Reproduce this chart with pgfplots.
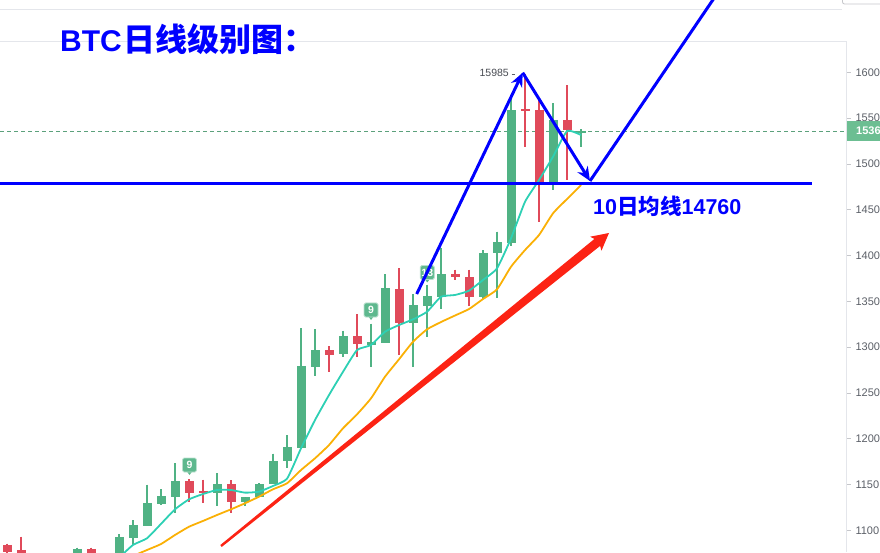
\documentclass[border=0pt]{standalone}
\usepackage{fontspec}
\setmainfont{Liberation Sans}
\newfontfamily\cjk{Noto Sans CJK SC}
\usepackage{pgfplots}
\usepackage{pgfplotstable}
\pgfplotsset{compat=1.18}
\usetikzlibrary{arrows.meta}
\definecolor{cgreen}{RGB}{80,178,132}
\definecolor{cred}{RGB}{224,74,90}
\definecolor{cteal}{RGB}{45,208,180}
\definecolor{corange}{RGB}{250,176,5}
\definecolor{cblue}{RGB}{0,0,255}
\definecolor{carrow}{RGB}{252,35,20}
\definecolor{cgrid}{RGB}{228,230,235}
\definecolor{ctick}{RGB}{90,94,102}
\definecolor{clast}{RGB}{108,190,146}

\pgfplotstableread{
x o h l c
5 1072 1081 1068 1079.6
8 1074 1095.6 1070 1092.7
9 1092 1110.9 1083.6 1105.8
10 1105 1149.5 1105 1129.8
11 1129 1145 1128 1137.4
12 1136.7 1173.1 1119.2 1153.8
15 1141 1162.2 1126.5 1150.5
17 1131.2 1136 1126.5 1136
18 1136 1151.6 1136 1150.5
19 1150 1183.6 1150 1175.3
20 1175.3 1204 1168.4 1191
21 1190.2 1320.5 1190.2 1279.4
22 1278.6 1319.4 1268.5 1296.8
24 1292 1317.6 1288.9 1312
26 1302.3 1325.3 1278.6 1305.3
27 1304.8 1379.5 1304.8 1364.5
29 1326.6 1357.6 1278.6 1345.9
30 1345.2 1367.8 1310.7 1355.8
31 1355 1407.9 1341.6 1379.8
34 1355 1406 1353 1402.4
35 1402.4 1426 1353.3 1414.4
36 1414 1572 1410 1558.8
39 1480.6 1566 1471.5 1548
41 1533.5 1538 1518.8 1536
}\greentab

\pgfplotstableread{
x o h l c
0 1084 1085.5 1070 1076
1 1078.5 1092.7 1068 1072
6 1079.6 1081 1070 1073
13 1153.8 1156 1131.2 1141
14 1143 1155 1130 1141
16 1150.5 1154.6 1119.2 1131.2
23 1296.8 1301 1273.2 1291.7
25 1312 1335.8 1289.6 1303
28 1363.4 1386 1291 1326.6
32 1379.5 1384.2 1373.3 1376
33 1376.2 1384.2 1344.9 1355
37 1559.6 1598.5 1518.8 1557.7
38 1558.8 1571.6 1436.9 1480.6
40 1548 1586 1482.4 1537
}\redtab

\newcommand{\marker}[3]{%
  \fill[cgreen!92!white] (#1-3,#2-6) -- (#1+3,#2-6) -- (#1,#2-10) -- cycle;
  \filldraw[fill=cgreen!92!white, draw=cgreen!40!white, line width=0.8pt, rounded corners=1.5pt] (#1-7,#2-7) rectangle (#1+7,#2+7);
  \node[text=white, inner sep=0, font=\fontsize{10.5}{11}\selectfont\bfseries] at (#1,#2) {#3};
}

\pgfplotsset{candle/.style={forget plot, only marks, mark=*, mark size=0pt,
  mark options={draw=none, fill=none},
  error bars/.cd, y dir=minus, y explicit, error mark=none}}

\begin{document}
\begin{tikzpicture}[x=1pt,y=1pt]
% top UI lines
\draw[cgrid, line width=0.8pt] (0,542.5) -- (842,542.5);
\draw[cgrid, line width=0.8pt] (0,510.5) -- (846.5,510.5);
\draw[cgrid!70!gray, line width=0.8pt, rounded corners=2pt] (842.5,548) rectangle (895,562);

\begin{axis}[
  at={(0,0)}, anchor=south west, scale only axis,
  width=846.5pt, height=510pt,
  xmin=-0.5, xmax=59.96, ymin=1076.3, ymax=1633.1,
  hide x axis, axis y line*=right,
  axis line style={draw=cgrid, line width=0.8pt},
  ytick={1100,1150,...,1600},
  tick align=outside, major tick length=4pt,
  ytick style={draw=cgrid!70!gray, line width=0.6pt},
  yticklabel style={font=\fontsize{11}{12}\selectfont, text=ctick, xshift=1.5pt},
  /pgf/number format/assume math mode=true,
  /pgf/number format/1000 sep={},
  clip=true,
]
% last price dashed line
\addplot[forget plot, clast!85!black, line width=0.6pt, dash pattern=on 4pt off 3pt] coordinates {(-0.5,1536) (59.96,1536)};

% green wicks and bodies
\addplot[candle, error bar style={line width=1.2pt, color=cgreen}]
  table[x=x, y=h, y error minus expr=\thisrow{h}-\thisrow{l}] {\greentab};
\addplot[candle, error bar style={line width=9pt, color=cgreen}]
  table[x=x, y=c, y error minus expr=\thisrow{c}-\thisrow{o}] {\greentab};
% red wicks and bodies
\addplot[candle, error bar style={line width=1.2pt, color=cred}]
  table[x=x, y=h, y error minus expr=\thisrow{h}-\thisrow{l}] {\redtab};
\addplot[candle, error bar style={line width=9pt, color=cred}]
  table[x=x, y=o, y error minus expr=\thisrow{o}-\thisrow{c}] {\redtab};

% MA10 (orange)
\addplot[forget plot, corange, line width=1.8pt, smooth, tension=0.3] coordinates {
(9,1072) (10,1078.5) (11,1085) (12,1094.9) (13,1103.9) (14,1110.2) (15,1116.7)
(16,1122.9) (17,1129.5) (18,1136.7) (19,1144.8) (20,1151.3) (21,1165.8) (22,1178.6)
(23,1193.1) (24,1211.4) (25,1226.6) (26,1244.1) (27,1267.7) (28,1286.7) (29,1305.9)
(30,1319.4) (31,1327.4) (32,1334.5) (33,1341.6) (34,1352.5) (35,1363.1) (36,1387.8)
(37,1406) (38,1422.4) (39,1446.1) (40,1461.7) (41,1477)};
% MA5 (teal)
\addplot[forget plot, cteal, line width=1.8pt, smooth, tension=0.3] coordinates {
(8,1070) (9,1084) (10,1091.3) (11,1107) (12,1122.9) (13,1133.8) (14,1139.6) (15,1144)
(16,1144) (17,1141.1) (18,1142.2) (19,1148.4) (20,1156.3) (21,1189.5) (22,1220.4)
(23,1247.7) (24,1273.1) (25,1296.8) (26,1302.3) (27,1316.8) (28,1324.1) (29,1330.3)
(30,1338.6) (31,1355) (32,1356.9) (33,1361.6) (34,1373.3) (35,1386) (36,1418.8)
(37,1458.7) (38,1482.4) (39,1507.9) (40,1535.9) (41,1531.5)};
\end{axis}

% last price tag
\fill[clast] (846.5,411) rectangle (895,431);
\node[anchor=west, inner sep=0, text=white, font=\fontsize{11}{12}\selectfont\bfseries] at (856,421) {1536};

% high label
\node[anchor=east, inner sep=0, text=ctick!80!black, font=\fontsize{10.5}{12}\selectfont] at (509,479) {15985};
\draw[ctick, line width=0.6pt] (511.5,478) -- (515,478);

% signal markers
\marker{189.5}{87}{9}
\marker{371}{242}{9}
\marker{427.3}{279.5}{13}

% title and annotation
\node[anchor=base west, inner sep=0, text=cblue, font=\fontsize{30}{32}\selectfont\bfseries] at (60,500.3) {BTC\kern2pt{\cjk\fontsize{32}{34}\selectfont 日线级别图：}};
\node[anchor=base west, inner sep=0, text=cblue, font=\fontsize{21.5}{24}\selectfont\bfseries] at (593,337.7) {10{\cjk 日均线}14760};

% support line
\draw[cblue, line width=3pt] (0,368.7) -- (812,368.7);
% zigzag
\draw[cblue, line width=3pt, -{Stealth[length=14pt,width=12pt]}] (416.7,258) -- (522.7,479.3);
\draw[cblue, line width=3pt, -{Stealth[length=14pt,width=12pt]}] (522.7,479.3) -- (590,371);
\draw[cblue, line width=3pt] (590,371) -- (725,570);
% red trend arrow
\fill[carrow] (221.75,5.07) -- (600.13,306.1) -- (601.45,301.3) -- (609,319) -- (590.15,315.3) -- (594.47,313.1) -- (220.25,6.93) -- cycle;

\pgfresetboundingbox
\path[use as bounding box] (0,0) rectangle (880,552);
\end{tikzpicture}
\end{document}
